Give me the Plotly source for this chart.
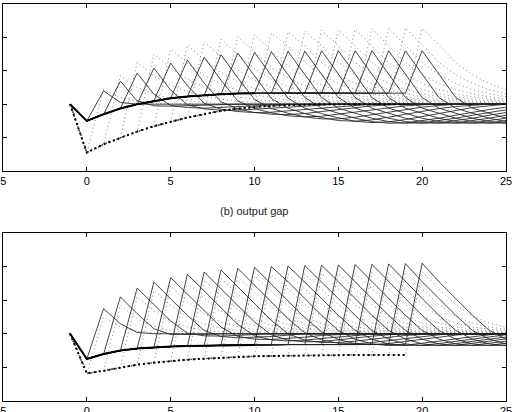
import plotly.graph_objects as go

# ---------------- data ----------------
X_TICK_VALS = [-5, 0, 5, 10, 15, 20, 25]
X_TICK_TEXT = ["-5\u00a0", "0", "5", "10", "15", "20", "25"]
HORIZONS = list(range(1, 21))          # anticipation horizon of each thin line
PANEL_B_TITLE = "(b) output gap"

# (a) inflation - base paths at x = -1 .. 19
A_BASE_SOLID = [0.0, -0.5, -0.3, -0.13, 0.0, 0.1, 0.18, 0.23, 0.27, 0.3, 0.32,
                0.33, 0.33, 0.33, 0.33, 0.33, 0.33, 0.33, 0.33, 0.33, 0.33]
A_BASE_DOT = [0.0, -1.45, -1.2, -1.0, -0.82, -0.66, -0.52, -0.4, -0.3, -0.2, -0.13,
              -0.08, -0.05, -0.03, -0.01, 0.0, 0.0, 0.0, 0.0, 0.0, 0.0]
A_PEAK_SOLID = [0.4, 0.69, 0.93, 1.08, 1.23, 1.32, 1.41, 1.48, 1.53, 1.55,
                1.57, 1.58, 1.59, 1.6, 1.6, 1.6, 1.6, 1.6, 1.6, 1.6]
A_PEAK_DOT = [0.45, 0.85, 1.25, 1.5, 1.65, 1.77, 1.87, 1.95, 2.02, 2.08,
              2.12, 2.16, 2.19, 2.21, 2.23, 2.25, 2.26, 2.27, 2.28, 2.28]
# values after the peak (k+1, k+2, ...) for k = 1..10 and for k >= 11
A_TAIL_SOLID = [
    [0.05, 0.0],
    [0.1, -0.05, -0.06, -0.05, -0.03, -0.01, 0.0],
    [0.3, -0.04, -0.1, -0.12, -0.1, -0.07, -0.04, -0.02, 0.0],
    [0.42, -0.02, -0.14, -0.18, -0.18, -0.15, -0.11, -0.07, -0.04, -0.02, 0.0],
    [0.55, 0.03, -0.15, -0.22, -0.25, -0.24, -0.2, -0.15, -0.1, -0.06, -0.03, 0.0],
    [0.63, 0.07, -0.14, -0.25, -0.3, -0.31, -0.28, -0.22, -0.16, -0.1, -0.05, -0.02, 0.0],
    [0.72, 0.1, -0.13, -0.26, -0.35, -0.38, -0.36, -0.3, -0.23, -0.16, -0.1, -0.05, -0.02, 0.0],
    [0.79, 0.14, -0.13, -0.27, -0.38, -0.44, -0.44, -0.39, -0.31, -0.23, -0.15, -0.09, -0.04, 0.0],
    [0.84, 0.17, -0.12, -0.28, -0.4, -0.49, -0.51, -0.47, -0.39, -0.3, -0.21, -0.13, -0.07, -0.03, 0.0],
    [0.86, 0.18, -0.12, -0.28, -0.41, -0.51, -0.55, -0.53, -0.46, -0.37, -0.27, -0.18, -0.1, -0.05, 0.0],
    [0.9, 0.2, -0.12, -0.28, -0.42, -0.52, -0.57, -0.56, -0.5, -0.42, -0.33, -0.24, -0.16, -0.09, -0.04, 0.0],
]
A_TAIL_DOT = [
    [0.2, 0.08, 0.03, 0.01, 0.0],
    [0.5, 0.3, 0.18, 0.1, 0.05, 0.02, 0.0],
    [0.85, 0.56, 0.37, 0.24, 0.15, 0.09, 0.05, 0.02, 0.0],
    [1.08, 0.75, 0.51, 0.34, 0.22, 0.14, 0.09, 0.05, 0.02, 0.0],
    [1.22, 0.86, 0.6, 0.41, 0.28, 0.19, 0.12, 0.07, 0.04, 0.02, 0.0],
    [1.33, 0.95, 0.67, 0.46, 0.32, 0.22, 0.15, 0.1, 0.06, 0.03, 0.0],
    [1.42, 1.02, 0.72, 0.5, 0.35, 0.24, 0.17, 0.11, 0.07, 0.04, 0.02, 0.0],
    [1.49, 1.07, 0.76, 0.53, 0.37, 0.26, 0.18, 0.12, 0.08, 0.05, 0.02, 0.0],
    [1.55, 1.11, 0.79, 0.55, 0.39, 0.27, 0.19, 0.13, 0.08, 0.05, 0.02, 0.0],
    [1.6, 1.15, 0.81, 0.57, 0.4, 0.28, 0.2, 0.14, 0.09, 0.05, 0.02, 0.0],
    [1.75, 1.25, 0.88, 0.62, 0.44, 0.31, 0.22, 0.15, 0.1, 0.06, 0.03, 0.01, 0.0],
]

# (b) output gap - base paths at x = -1 .. 19
B_BASE_SOLID = [0.0, -0.75, -0.6, -0.5, -0.44, -0.4, -0.38, -0.36, -0.35, -0.34, -0.33,
                -0.33, -0.32, -0.32, -0.32, -0.32, -0.32, -0.32, -0.32, -0.32, -0.32]
B_BASE_DOT = [0.0, -1.18, -1.1, -1.0, -0.92, -0.86, -0.81, -0.77, -0.74, -0.71, -0.69,
              -0.67, -0.66, -0.65, -0.64, -0.63, -0.63, -0.63, -0.63, -0.63, -0.63]
B_PEAK_SOLID = [0.75, 1.1, 1.36, 1.54, 1.67, 1.77, 1.84, 1.9, 1.95, 1.98,
                2.0, 2.02, 2.03, 2.04, 2.05, 2.06, 2.07, 2.08, 2.09, 2.1]
B_PEAK_DOT = [0.5, 0.85, 1.1, 1.29, 1.42, 1.52, 1.59, 1.65, 1.7, 1.73,
              1.75, 1.77, 1.78, 1.79, 1.8, 1.81, 1.82, 1.83, 1.84, 1.85]
B_TAIL_SOLID = [
    [0.3, 0.04, 0.0],
    [0.6, 0.15, -0.02, -0.03, -0.02, 0.0],
    [0.86, 0.38, 0.02, -0.06, -0.07, -0.05, -0.03, 0.0],
    [1.04, 0.55, 0.1, -0.08, -0.12, -0.11, -0.08, -0.04, 0.0],
    [1.17, 0.68, 0.2, -0.08, -0.16, -0.17, -0.14, -0.1, -0.05, -0.02, 0.0],
    [1.27, 0.77, 0.28, -0.06, -0.18, -0.21, -0.19, -0.14, -0.09, -0.04, -0.01, 0.0],
    [1.34, 0.84, 0.35, -0.03, -0.19, -0.24, -0.23, -0.18, -0.12, -0.07, -0.03, 0.0],
    [1.4, 0.9, 0.4, 0.0, -0.19, -0.26, -0.26, -0.22, -0.16, -0.1, -0.05, -0.02, 0.0],
    [1.45, 0.95, 0.45, 0.03, -0.18, -0.28, -0.3, -0.26, -0.2, -0.13, -0.07, -0.03, 0.0],
    [1.48, 0.98, 0.48, 0.06, -0.17, -0.29, -0.32, -0.29, -0.23, -0.16, -0.09, -0.04, 0.0],
    [1.55, 1.05, 0.55, 0.1, -0.16, -0.3, -0.35, -0.34, -0.29, -0.22, -0.15, -0.08, -0.03, 0.0],
]
B_TAIL_DOT = [
    [0.2, 0.08, 0.03, 0.01, 0.0],
    [0.45, 0.22, 0.1, 0.05, 0.02, 0.0],
    [0.68, 0.38, 0.2, 0.11, 0.06, 0.03, 0.0],
    [0.85, 0.51, 0.29, 0.17, 0.1, 0.06, 0.03, 0.0],
    [0.97, 0.6, 0.35, 0.21, 0.13, 0.08, 0.04, 0.02, 0.0],
    [1.06, 0.67, 0.4, 0.24, 0.15, 0.09, 0.05, 0.02, 0.0],
    [1.13, 0.72, 0.43, 0.26, 0.16, 0.1, 0.06, 0.03, 0.0],
    [1.18, 0.76, 0.45, 0.28, 0.17, 0.11, 0.07, 0.04, 0.02, 0.0],
    [1.23, 0.8, 0.47, 0.29, 0.18, 0.12, 0.07, 0.04, 0.02, 0.0],
    [1.26, 0.82, 0.49, 0.3, 0.19, 0.12, 0.08, 0.05, 0.02, 0.0],
    [1.33, 0.87, 0.52, 0.32, 0.2, 0.13, 0.08, 0.05, 0.03, 0.01, 0.0],
]

X_BASE = list(range(-1, 20))
THICK_END = 12   # thick solid drawn for x = -1 .. 10


def horizon_series(base, peaks, tails, k):
    tail = tails[min(k, len(tails)) - 1]
    xs = X_BASE[:k + 1] + [k] + [k + i + 1 for i in range(len(tail))]
    ys = base[:k + 1] + [peaks[k - 1]] + tail
    if xs[-1] < 25:
        xs = xs + [25]
        ys = ys + [tail[-1]]
    return xs, ys


fig = go.Figure()

THIN_SOLID = dict(color="#222222", width=0.85)
THIN_DOT = dict(color="#666666", width=0.8, dash="1px,3px")
THICK_SOLID = dict(color="black", width=2)
THICK_DOT = dict(color="black", width=2, dash="2px,3px")

panels = [
    ("x", "y", A_BASE_SOLID, A_BASE_DOT, A_PEAK_SOLID, A_PEAK_DOT, A_TAIL_SOLID, A_TAIL_DOT),
    ("x2", "y2", B_BASE_SOLID, B_BASE_DOT, B_PEAK_SOLID, B_PEAK_DOT, B_TAIL_SOLID, B_TAIL_DOT),
]

for xa, ya, bs, bd, ps, pd, ts, td in panels:
    for k in HORIZONS:
        xs, ys = horizon_series(bd, pd, td, k)
        fig.add_trace(go.Scatter(x=xs, y=ys, mode="lines", line=THIN_DOT,
                                 xaxis=xa, yaxis=ya, showlegend=False, hoverinfo="skip"))
    for k in HORIZONS:
        xs, ys = horizon_series(bs, ps, ts, k)
        fig.add_trace(go.Scatter(x=xs, y=ys, mode="lines", line=THIN_SOLID,
                                 xaxis=xa, yaxis=ya, showlegend=False, hoverinfo="skip"))
    fig.add_trace(go.Scatter(x=X_BASE, y=bd, mode="lines", line=THICK_DOT,
                             xaxis=xa, yaxis=ya, showlegend=False, hoverinfo="skip"))
    fig.add_trace(go.Scatter(x=X_BASE[:THICK_END], y=bs[:THICK_END], mode="lines",
                             line=THICK_SOLID, xaxis=xa, yaxis=ya,
                             showlegend=False, hoverinfo="skip"))

FONT = "Liberation Sans, Arial, sans-serif"
xcommon = dict(range=[-5, 25], tickvals=X_TICK_VALS, ticktext=X_TICK_TEXT,
               ticks="inside", ticklen=4, tickcolor="black", showline=True,
               linecolor="black", linewidth=1, mirror="ticks", showgrid=False,
               zeroline=False, ticklabeloverflow="allow", automargin=False,
               tickfont=dict(family=FONT, size=11, color="black"))
ycommon = dict(range=[-2, 3], dtick=1, tick0=0, ticks="inside", ticklen=4,
               tickcolor="black", showline=True, linecolor="black", linewidth=1,
               mirror="ticks", showgrid=False, zeroline=False, showticklabels=False,
               automargin=False)

fig.update_layout(
    width=514, height=412,
    margin=dict(l=3, r=8, t=0, b=0),
    paper_bgcolor="white", plot_bgcolor="white",
    xaxis=dict(domain=[0, 1], anchor="y", **xcommon),
    yaxis=dict(domain=[0.585, 0.9903], anchor="x", **ycommon),
    xaxis2=dict(domain=[0, 1], anchor="y2", **xcommon),
    yaxis2=dict(domain=[0.0267, 0.4345], anchor="x2", **ycommon),
    annotations=[dict(text=PANEL_B_TITLE, xref="paper", yref="paper", x=0.5, y=0.488,
                      xanchor="center", yanchor="middle", showarrow=False,
                      font=dict(family=FONT, size=11, color="#222"))],
)

fig.write_html("out.html")
